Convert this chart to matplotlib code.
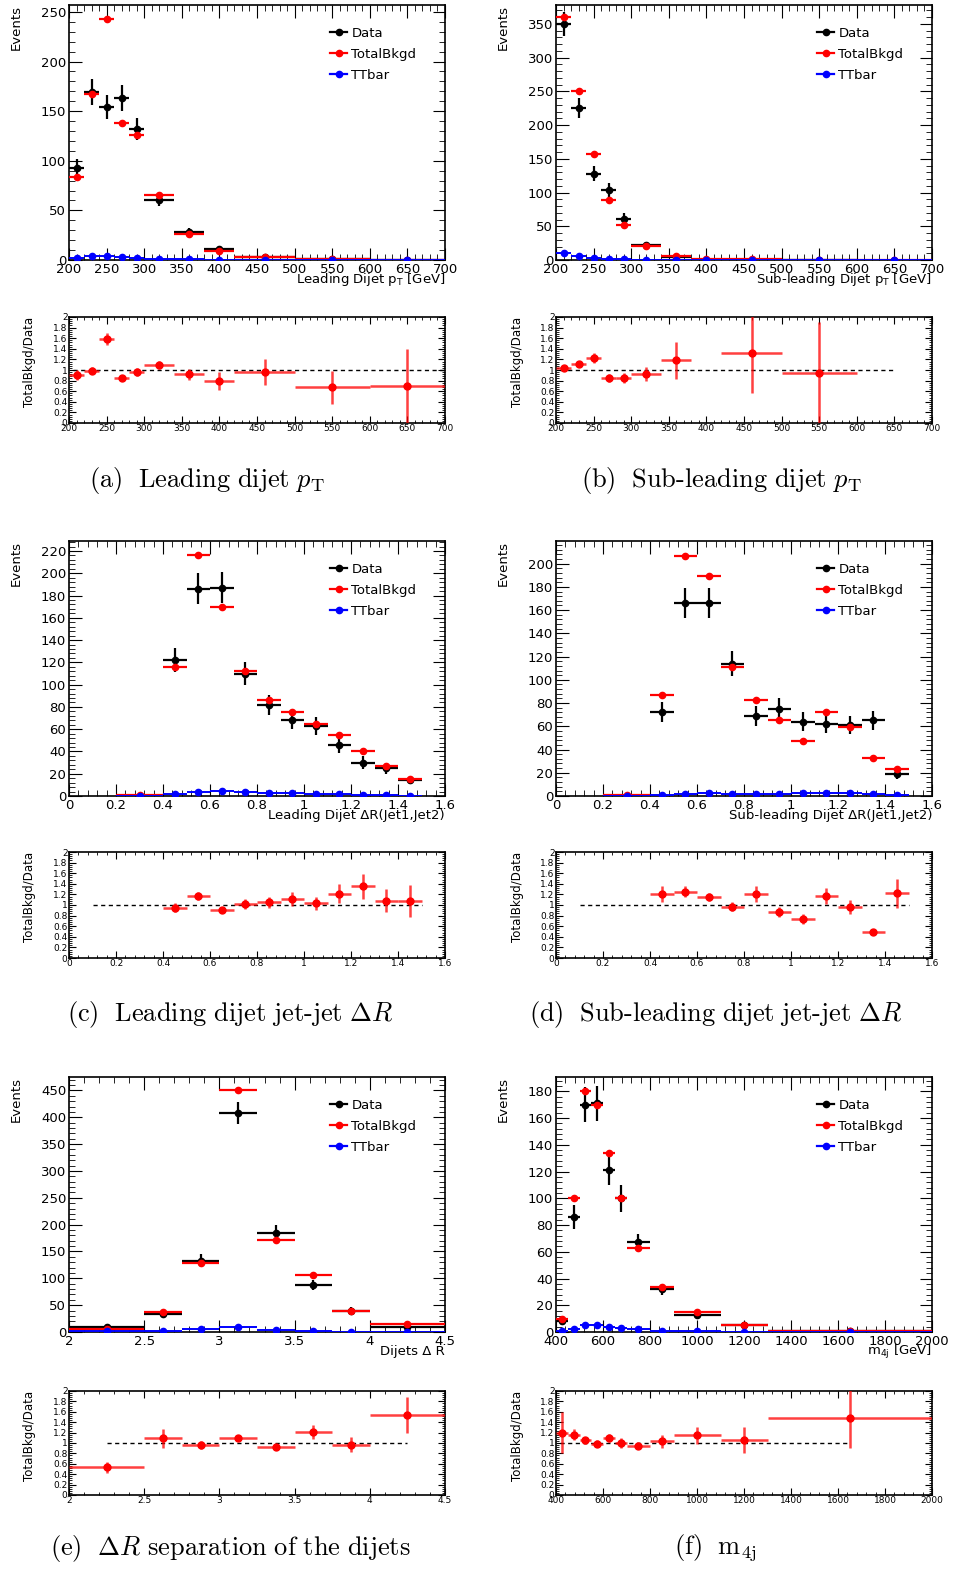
import numpy as np
import matplotlib.pyplot as plt
from matplotlib.ticker import MultipleLocator, AutoMinorLocator, FuncFormatter
from matplotlib.lines import Line2D

nan = np.nan

# (a) leading dijet pT
pt_edges = [200, 220, 240, 260, 280, 300, 340, 380, 420, 500, 600, 700]
lead_pt_data = [93, 169, 154, 163, 132, 60, 28, 11, 3, 1, 0.5]
lead_pt_data_err = [9, 13, 12, 13, 11, 6, 4, 2, 1, 0.5, 0.3]
lead_pt_bkgd = [84, 167, 243, 138, 126, 66, 26, 9, 3, 0.7, 0.4]
lead_pt_ttbar = [2, 4.5, 4.5, 3.5, 2.5, 1.5, 0.8, 0.5, 0.3, 0.2, 0.1]
lead_pt_ratio = [0.91, 0.99, 1.58, 0.85, 0.96, 1.09, 0.92, 0.80, 0.96, 0.67, 0.70]
lead_pt_ratio_err = [0.09, 0.06, 0.11, 0.04, 0.08, 0.08, 0.1, 0.17, 0.24, 0.31, 0.7]

# (b) sub-leading dijet pT
sub_pt_data = [350, 225, 128, 104, 61, 22, 5, nan, 0.6, 0.3, nan]
sub_pt_data_err = [18, 15, 11, 10, 8, 5, 2, nan, 0.5, 0.3, nan]
sub_pt_bkgd = [360, 251, 157, 89, 52, 21, 6, 2, 0.8, 0.3, 0.1]
sub_pt_ttbar = [10, 6, 3.5, 2, 1, 0.5, 0.3, 0.2, 0.1, 0.05, 0.02]
sub_pt_ratio = [1.03, 1.11, 1.23, 0.85, 0.85, 0.93, 1.18, nan, 1.32, 0.95, nan]
sub_pt_ratio_err = [0.04, 0.05, 0.1, 0.07, 0.1, 0.13, 0.35, nan, 0.75, 0.95, nan]

# (c) leading dijet jet-jet dR
dr_edges = [0.2, 0.4, 0.5, 0.6, 0.7, 0.8, 0.9, 1.0, 1.1, 1.2, 1.3, 1.4, 1.5]
lead_dr_data = [nan, 122, 186, 187, 110, 82, 68, 63, 46, 30, 25, 14]
lead_dr_data_err = [nan, 11, 14, 14, 10, 9, 8, 8, 7, 5.5, 5, 3.5]
lead_dr_bkgd = [0.5, 116, 216, 170, 112, 86, 75, 65, 55, 40, 27, 15]
lead_dr_ttbar = [0.2, 1.5, 4, 4.5, 3.5, 3, 2.5, 2, 1.5, 1, 0.5, 0.2]
lead_dr_ratio = [nan, 0.95, 1.17, 0.91, 1.02, 1.05, 1.11, 1.03, 1.21, 1.35, 1.08, 1.08]
lead_dr_ratio_err = [nan, 0.08, 0.08, 0.05, 0.1, 0.11, 0.13, 0.13, 0.18, 0.24, 0.22, 0.3]

# (d) sub-leading dijet jet-jet dR
sub_dr_data = [nan, 72, 166, 166, 114, 69, 75, 64, 62, 61, 65, 19]
sub_dr_data_err = [nan, 8.5, 13, 13, 11, 8.5, 9, 8, 8, 8, 8, 4.5]
sub_dr_bkgd = [0.5, 87, 207, 189, 111, 83, 65, 47, 72, 59, 33, 23]
sub_dr_ttbar = [0.2, 0.5, 2, 3, 2, 2, 2, 2.5, 3, 2.5, 1.5, 1]
sub_dr_ratio = [nan, 1.2, 1.25, 1.15, 0.97, 1.21, 0.87, 0.74, 1.17, 0.96, 0.5, 1.22]
sub_dr_ratio_err = [nan, 0.15, 0.1, 0.08, 0.08, 0.15, 0.1, 0.09, 0.15, 0.13, 0.04, 0.28]

# (e) dR separation of the dijets
djdr_edges = [2, 2.5, 2.75, 3, 3.25, 3.5, 3.75, 4, 4.5]
djdr_data = [9, 34, 133, 408, 185, 88, 40, 10]
djdr_data_err = [3, 6, 12, 20, 14, 9, 6, 3]
djdr_bkgd = [5, 37, 128, 450, 171, 106, 39, 14]
djdr_ttbar = [1, 1.5, 5, 10, 4, 1, 0.5, 0.5]
djdr_ratio = [0.53, 1.09, 0.96, 1.10, 0.93, 1.21, 0.97, 1.54]
djdr_ratio_err = [0.11, 0.18, 0.07, 0.05, 0.06, 0.13, 0.15, 0.35]

# (f) m4j
m4j_edges = [400, 450, 500, 550, 600, 650, 700, 800, 900, 1100, 1300, 2000]
m4j_data = [8, 86, 170, 171, 121, 100, 67, 32, 13, 5, 0.5]
m4j_data_err = [3, 9, 13, 13, 11, 10, 6, 4, 2, 1.5, 0.5]
m4j_bkgd = [10, 100, 180, 170, 134, 100, 63, 34, 15, 5, 0.8]
m4j_ttbar = [0.5, 2, 5, 5, 4, 3, 2, 1, 0.5, 0.2, 0.1]
m4j_ratio = [1.2, 1.16, 1.05, 0.99, 1.1, 1.0, 0.95, 1.03, 1.15, 1.06, 1.48]
m4j_ratio_err = [0.4, 0.1, 0.06, 0.06, 0.08, 0.1, 0.07, 0.12, 0.16, 0.25, 0.57]

captions = [r'$\mathrm{(a)\ \ Leading\ dijet\ }p_{\mathrm{T}}$',
            r'$\mathrm{(b)\ \ Sub\text{-}leading\ dijet\ }p_{\mathrm{T}}$',
            r'$\mathrm{(c)\ \ Leading\ dijet\ jet\text{-}jet\ }\Delta R$',
            r'$\mathrm{(d)\ \ Sub\text{-}leading\ dijet\ jet\text{-}jet\ }\Delta R$',
            r'$\mathrm{(e)\ \ }\Delta R\mathrm{\ separation\ of\ the\ dijets}$',
            r'$\mathrm{(f)\ \ m_{4j}}$']

W, H = 955, 1574
fig = plt.figure(figsize=(W / 100, H / 100), dpi=100)


def px_axes(l, t, r, b):
    return fig.add_axes([l / W, 1 - b / H, (r - l) / W, (b - t) / H])


fmt_g = FuncFormatter(lambda v, p: '{:g}'.format(round(v, 6)))


def panel(col, row, edges, data, data_err, bkgd, ttbar, ratio, ratio_err,
          xlim, xstep, ymax, ystep, xlabel, dash):
    left = [69, 556][col]
    right = left + 376
    mt, mb = [(5, 260), (541, 796), (1077, 1332)][row]
    rt, rb = [(317, 423), (852, 958), (1391, 1495)][row]
    ax = px_axes(left, mt, right, mb)
    rax = px_axes(left, rt, right, rb)

    edges = np.array(edges, dtype=float)
    c = (edges[:-1] + edges[1:]) / 2
    hw = np.diff(edges) / 2

    ax.errorbar(c, data, xerr=hw, yerr=data_err, fmt='o', color='black',
                ms=4.5, elinewidth=1.6, capsize=0, zorder=3)
    ax.errorbar(c, bkgd, xerr=hw, fmt='o', color='red',
                ms=4.5, elinewidth=1.6, capsize=0, zorder=4)
    ax.errorbar(c, ttbar, xerr=hw, fmt='o', color='blue',
                ms=4.5, elinewidth=1.4, capsize=0, zorder=5)
    ax.set_xlim(*xlim)
    ax.set_ylim(0, ymax)
    ax.xaxis.set_major_locator(MultipleLocator(xstep))
    ax.yaxis.set_major_locator(MultipleLocator(ystep))
    ax.xaxis.set_minor_locator(AutoMinorLocator(5))
    ax.yaxis.set_minor_locator(AutoMinorLocator(5))
    ax.xaxis.set_major_formatter(fmt_g)
    ax.tick_params(which='both', direction='in', top=True, right=True,
                   labelsize=9.5, pad=2)
    ax.tick_params(which='major', length=9)
    ax.tick_params(which='minor', length=4.5)
    ax.text(1.0, -20 / 255, xlabel, transform=ax.transAxes, ha='right',
            va='center', fontsize=9.5)
    ax.text(-53 / 376, 1.0, 'Events', transform=ax.transAxes, rotation=90,
            ha='center', va='top', fontsize=9.5)
    handles = [Line2D([], [], color=k, marker='o', ms=4.5, lw=1.6)
               for k in ['black', 'red', 'blue']]
    ax.legend(handles, ['Data', 'TotalBkgd', 'TTbar'], loc='upper left',
              bbox_to_anchor=(0.695, 0.915), frameon=False, fontsize=9.5,
              handlelength=1.3, handletextpad=0.3, labelspacing=0.6,
              borderaxespad=0, borderpad=0)

    rax.plot(dash, [1, 1], color='black', lw=1, ls=(0, (3, 2.5)), zorder=1)
    rax.errorbar(c, ratio, xerr=hw, yerr=ratio_err, fmt='o', color='red',
                 ecolor=(1, 0, 0, 0.75), ms=5, elinewidth=1.8, capsize=0,
                 zorder=3)
    rax.set_xlim(*xlim)
    rax.set_ylim(0, 2)
    rax.xaxis.set_major_locator(MultipleLocator(xstep))
    rax.yaxis.set_major_locator(MultipleLocator(0.2))
    rax.xaxis.set_minor_locator(AutoMinorLocator(5))
    rax.yaxis.set_minor_locator(AutoMinorLocator(5))
    rax.xaxis.set_major_formatter(fmt_g)
    rax.yaxis.set_major_formatter(fmt_g)
    rax.tick_params(which='both', direction='in', top=True, right=True,
                    labelsize=6.5, pad=1)
    rax.tick_params(which='major', length=5)
    rax.tick_params(which='minor', length=2.5)
    rax.text(-39 / 376, 1.0, 'TotalBkgd/Data', transform=rax.transAxes,
             rotation=90, ha='center', va='top', fontsize=8.5)
    for a in (ax, rax):
        for s in a.spines.values():
            s.set_linewidth(1.2)


panel(0, 0, pt_edges, lead_pt_data, lead_pt_data_err, lead_pt_bkgd, lead_pt_ttbar,
      lead_pt_ratio, lead_pt_ratio_err, (200, 700), 50, 257, 50,
      r'Leading Dijet $\mathrm{p_T}$ [GeV]', (205, 700))
panel(1, 0, pt_edges, sub_pt_data, sub_pt_data_err, sub_pt_bkgd, sub_pt_ttbar,
      sub_pt_ratio, sub_pt_ratio_err, (200, 700), 50, 378, 50,
      r'Sub-leading Dijet $\mathrm{p_T}$ [GeV]', (205, 650))
panel(0, 1, dr_edges, lead_dr_data, lead_dr_data_err, lead_dr_bkgd, lead_dr_ttbar,
      lead_dr_ratio, lead_dr_ratio_err, (0, 1.6), 0.2, 229, 20,
      'Leading Dijet \u0394R(Jet1,Jet2)', (0.1, 1.5))
panel(1, 1, dr_edges, sub_dr_data, sub_dr_data_err, sub_dr_bkgd, sub_dr_ttbar,
      sub_dr_ratio, sub_dr_ratio_err, (0, 1.6), 0.2, 219.5, 20,
      'Sub-leading Dijet \u0394R(Jet1,Jet2)', (0.1, 1.5))
panel(0, 2, djdr_edges, djdr_data, djdr_data_err, djdr_bkgd, djdr_ttbar,
      djdr_ratio, djdr_ratio_err, (2, 4.5), 0.5, 475, 50,
      'Dijets \u0394 R', (2.25, 4.25))
panel(1, 2, m4j_edges, m4j_data, m4j_data_err, m4j_bkgd, m4j_ttbar,
      m4j_ratio, m4j_ratio_err, (400, 2000), 200, 190.7, 20,
      r'$\mathrm{m_{4j}}$ [GeV]', (417, 1650))

cap_pos = [(207, 480), (721, 480), (230, 1015), (716, 1015), (230, 1548), (715, 1548)]
for txt, (x, y) in zip(captions, cap_pos):
    fig.text(x / W, 1 - y / H, txt, ha='center', va='center', fontsize=19,
             math_fontfamily='cm')

plt.savefig('out.png', dpi=100)
